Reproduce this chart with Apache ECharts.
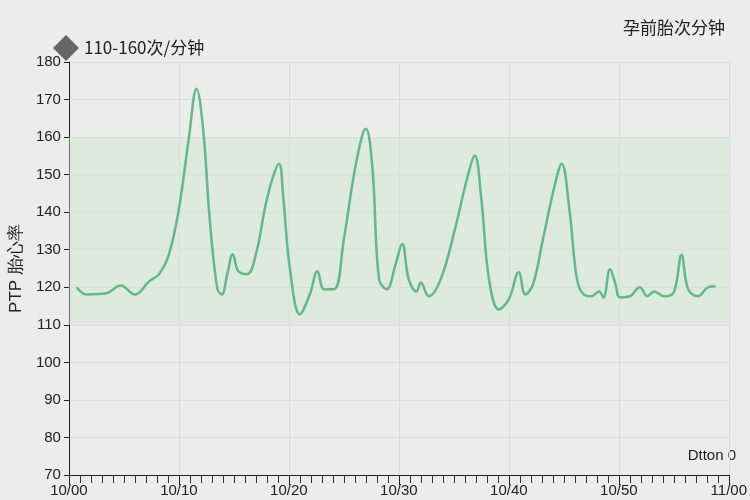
<!DOCTYPE html><html><head><meta charset="utf-8"><script src="https://cdn.jsdelivr.net/npm/echarts@6/dist/echarts.min.js"></script>
<style>body{margin:0;background:#ececec}#c{width:750px;height:500px}</style></head><body><div id="c"></div><script>
const times=[0.7,1.6,3.4,4.7,6.0,7.3,8.2,9.1,10.0,10.9,11.6,12.2,12.8,13.5,13.9,14.4,14.9,15.4,16.2,17.0,17.9,18.5,19.1,19.5,20.1,21.0,21.9,22.6,23.2,24.1,25.0,26.1,27.0,27.6,28.2,28.9,29.7,30.3,30.9,31.6,32.0,32.7,33.8,35.1,36.2,36.9,37.5,38.2,39.1,40.0,40.9,41.5,42.2,43.1,44.2,44.8,45.5,46.2,46.8,47.5,48.2,48.6,49.2,49.7,50.1,51.0,51.9,52.6,53.2,54.1,55.0,55.7,56.3,57.2,58.1,58.8];
const bpm=[120,118.1,118.4,120.5,118.1,121.6,123.5,128.8,140.9,159.6,172.9,162.2,138.2,119.5,118.1,123.5,128.8,124.3,123.5,128.8,142.2,148.9,152.9,143.5,124.8,112.8,118.1,124.3,119.5,119.5,132.8,152.9,162.2,151.6,122.1,119.5,126.1,131.5,122.1,118.9,121.3,117.6,122.1,135.5,148.9,155,143.5,122.1,114.1,116.8,124,118.1,120.8,132.8,147.5,152.9,140.9,122.1,118.1,117.6,118.9,117.3,124.8,120.8,117.3,117.6,120,117.6,118.9,117.6,118.7,128.6,119.5,117.6,120,120.3];
const xLabels=['10/00','10/10','10/20','10/30','10/40','10/50','11/00'];
const band=[110,160];
const ch=echarts.init(document.getElementById('c'));
ch.setOption({backgroundColor:'#ececec',animation:false,
title:{text:'孕前胎次分钟',right:20,top:14,textStyle:{fontSize:17,fontWeight:'normal',color:'#222',fontFamily:'Noto Sans CJK SC'}},
legend:{left:48,top:30,icon:'diamond',itemWidth:26,itemHeight:26,textStyle:{fontSize:17,color:'#222',fontFamily:'Noto Sans CJK SC'},data:[{name:'110-160次/分钟',itemStyle:{color:'#666'}}]},
graphic:[{type:'text',right:14,top:448,style:{text:'Dtton 0',fontSize:15,fill:'#222'}}],
grid:{left:62,right:8,top:62,bottom:25},
xAxis:{type:'value',min:0,max:60,interval:10,axisLine:{lineStyle:{color:'#222'}},axisTick:{length:10,lineStyle:{color:'#222'}},
minorTick:{show:true,splitNumber:10,length:8,lineStyle:{color:'#333'}},minorSplitLine:{show:false},
splitLine:{show:true,lineStyle:{color:'#dcdcdc'}},axisLabel:{formatter:(v)=>xLabels[v/10],color:'#222',fontSize:15}},
yAxis:{type:'value',min:70,max:180,interval:10,name:'PTP 胎心率',nameLocation:'middle',nameGap:40,nameTextStyle:{fontSize:17,color:'#222'},
axisLine:{show:true,lineStyle:{color:'#222'}},axisTick:{show:true,lineStyle:{color:'#222'}},axisLabel:{color:'#222',fontSize:15},splitLine:{lineStyle:{color:'#dcdcdc'}}},
series:[{name:'110-160次/分钟',type:'line',smooth:0.4,symbol:'none',lineStyle:{color:'#62b98a',width:2.5},itemStyle:{color:'#62b98a'},
data:times.map((t,i)=>[t,bpm[i]]),
markArea:{silent:true,itemStyle:{color:'rgba(205,232,205,0.45)'},data:[[{yAxis:band[0]},{yAxis:band[1]}]]}}]});
</script></body></html>
